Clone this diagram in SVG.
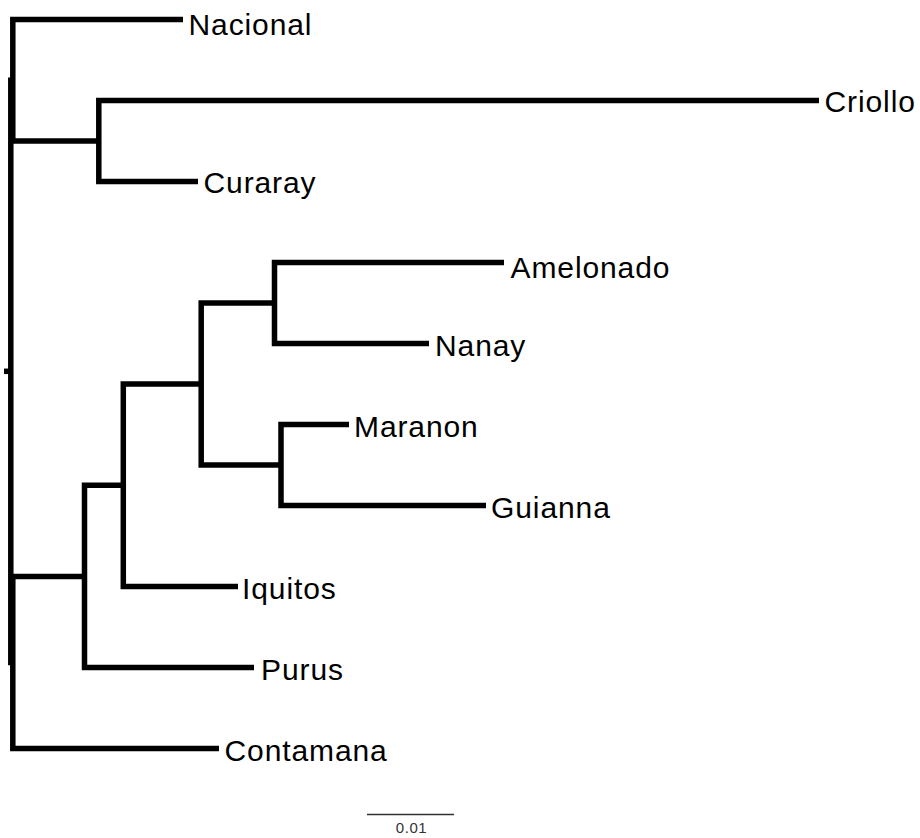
<svg xmlns="http://www.w3.org/2000/svg" width="920" height="838" viewBox="0 0 920 838">
<style>
.br{fill:none;stroke:#000;stroke-width:5.5;stroke-linejoin:miter;stroke-linecap:butt}
.lbl{font-family:"Liberation Sans",Arial,sans-serif;font-size:30px;fill:#000;letter-spacing:0.9px}
.sc{font-family:"Liberation Sans",Arial,sans-serif;font-size:15px;fill:#333;text-anchor:middle;letter-spacing:0.6px}
</style>
<rect width="920" height="838" fill="#fff"/>
<g id="connectors">
<path class="br" d="M4 371.3 H10.8"/>
<path class="br" d="M10.8 77.5 V665.2"/>
<path class="br" d="M183 19.5 H12.8 V141 H98.8"/>
<path class="br" d="M819 100.5 H98.8 V181.5 H198"/>
<path class="br" d="M84.5 576.4 H12.8 V748.5 H219"/>
<path class="br" d="M123.3 485.3 H84.5 V667.5 H254"/>
<path class="br" d="M201.2 384 H123.3 V586.5 H238"/>
<path class="br" d="M274.5 303 H201.2 V465 H281"/>
<path class="br" d="M504 262.5 H274.5 V343.5 H429"/>
<path class="br" d="M349 424.5 H281 V505.5 H486"/>
<path d="M367 814.5 H454" stroke="#333" stroke-width="1.3"/>
</g>
<g id="Nacional"><text class="lbl" x="188.5" y="35">Nacional</text></g>
<g id="Criollo"><text class="lbl" x="824.5" y="112.3">Criollo</text></g>
<g id="Curaray"><text class="lbl" x="203.5" y="193.3">Curaray</text></g>
<g id="Amelonado"><text class="lbl" x="510.5" y="278.3">Amelonado</text></g>
<g id="Nanay"><text class="lbl" x="435" y="356">Nanay</text></g>
<g id="Maranon"><text class="lbl" x="354" y="437">Maranon</text></g>
<g id="Guianna"><text class="lbl" x="491" y="518">Guianna</text></g>
<g id="Iquitos"><text class="lbl" x="242" y="599">Iquitos</text></g>
<g id="Purus"><text class="lbl" x="261" y="680">Purus</text></g>
<g id="Contamana"><text class="lbl" x="224.5" y="761">Contamana</text></g>
<g id="scale"><text class="sc" x="411.5" y="833">0.01</text></g>
</svg>
